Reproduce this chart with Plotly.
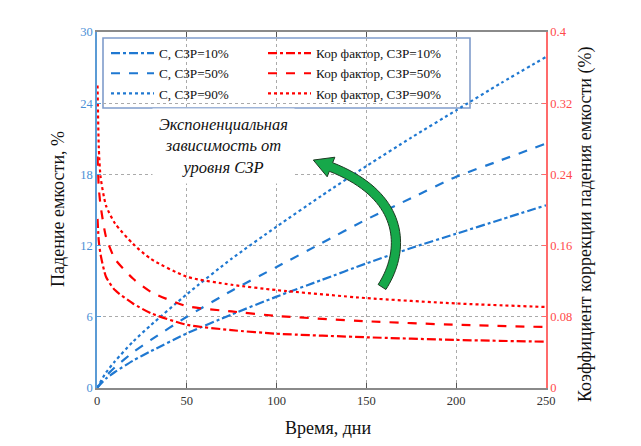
import numpy as np
import plotly.graph_objects as go

# ---------------- data ----------------
days = [0, 5, 10, 20, 30, 50, 75, 100, 125, 150, 175, 200, 225, 250]
c_10 = [0, 0.8, 1.35, 2.3, 3.1, 4.6, 6.2, 7.7, 9.1, 10.5, 11.8, 13.0, 14.2, 15.4]
c_50 = [0, 1.0, 1.75, 3.0, 4.05, 6.0, 8.2, 10.2, 12.2, 14.2, 16.0, 17.8, 19.2, 20.6]
c_90 = [0, 1.3, 2.25, 3.9, 5.3, 7.9, 10.9, 13.6, 16.2, 18.7, 21.1, 23.4, 25.7, 27.9]

k_days = [0.3, 1, 2, 5, 10, 20, 30, 50, 75, 100, 150, 200, 250]
k_90 = [0.34, 0.27, 0.237, 0.205, 0.185, 0.162, 0.145, 0.125, 0.116, 0.110, 0.101, 0.095, 0.091]
k_50 = [0.26, 0.225, 0.205, 0.17, 0.145, 0.123, 0.108, 0.092, 0.086, 0.081, 0.075, 0.071, 0.0685]
k_10 = [0.19, 0.165, 0.15, 0.125, 0.11, 0.095, 0.084, 0.071, 0.065, 0.061, 0.057, 0.054, 0.052]

c_names = ["С, СЗР=10%", "С, СЗР=50%", "С, СЗР=90%"]
k_names = ["Кор фактор, СЗР=10%", "Кор фактор, СЗР=50%", "Кор фактор, СЗР=90%"]

x_ticks = [0, 50, 100, 150, 200, 250]
y_ticks = [0, 6, 12, 18, 24, 30]
y2_ticks = [0, 0.08, 0.16, 0.24, 0.32, 0.4]
y2_labels = ["0", "0.08", "0.16", "0.24", "0.32", "0.4"]

note_text = "<i>Экспоненциальная<br>зависимость от<br>уровня СЗР</i>"
x_title = "Время, дни"
y_title = "Падение емкости, %"
y2_title = "Коэффициент коррекции падения емкости (%)"

# ---------------- styles ----------------
FONT = "Liberation Serif"
BLUE = "#1f78d1"
RED = "#ff0000"
dashes = ["dashdot", "dash", "dot"]

OFF = 8  # page body margin
W, H = 641 - OFF, 446 - OFF
L, R, T, B = 97 - OFF, 95, 32 - OFF, 58
PW, PH = W - L - R, H - T - B


def paper(px, py):
    # px, py measured in the screenshot
    return (px - OFF - L) / PW, (H - B - (py - OFF)) / PH


fig = go.Figure()
for i, ys in enumerate([c_10, c_50, c_90]):
    fig.add_trace(go.Scatter(
        x=days, y=ys, mode="lines", name=c_names[i], legend="legend",
        line=dict(color=BLUE, width=2.2, dash=dashes[i], shape="spline", smoothing=0.6),
        yaxis="y"))
for i, ys in enumerate([k_10, k_50, k_90]):
    fig.add_trace(go.Scatter(
        x=k_days, y=ys, mode="lines", name=k_names[i], legend="legend2",
        line=dict(color=RED, width=2.2, dash=dashes[i], shape="spline", smoothing=0.6),
        yaxis="y2"))

# ---------------- green curved arrow ----------------
P0 = np.array([382.0, 287.0])
P1 = np.array([406.0, 250.0])
P2 = np.array([405.0, 196.0])
P3 = np.array([331.0, 167.0])
ts = np.linspace(0, 1, 40)
pts = np.array([(1 - t) ** 3 * P0 + 3 * (1 - t) ** 2 * t * P1 + 3 * (1 - t) * t ** 2 * P2 + t ** 3 * P3 for t in ts])
der = np.array([3 * (1 - t) ** 2 * (P1 - P0) + 6 * (1 - t) * t * (P2 - P1) + 3 * t ** 2 * (P3 - P2) for t in ts])
tan = der / np.linalg.norm(der, axis=1)[:, None]
nor = np.stack([-tan[:, 1], tan[:, 0]], axis=1)
hw = 4.6
left = pts + nor * hw
right = pts - nor * hw
d_end = tan[-1]
n_end = nor[-1]
head_a = P3 + n_end * 10.5
head_b = P3 - n_end * 10.5
tip = P3 + d_end * 19
poly = list(left) + [head_a, tip, head_b] + list(right[::-1])
path = "M " + " L ".join("{:.5f},{:.5f}".format(*paper(p[0], p[1])) for p in poly) + " Z"

fx0, fy1 = paper(103, 38)
fx1, fy0 = paper(470, 108)
shapes = [
    # legend frame (drawn on the subplot, over the grid)
    dict(type="rect", xref="x domain", yref="y domain",
         x0=fx0, x1=fx1, y0=fy0, y1=fy1,
         fillcolor="white", line=dict(color="#7f9ccb", width=1.6), layer="below"),
    dict(type="path", xref="paper", yref="paper", path=path,
         fillcolor="#16a84a", line=dict(color="#1d3a22", width=1), layer="above"),
]

lx1, ly = paper(106, 38)
lx2, _ = paper(263, 38)


def ann(text, px, py, size, angle=0, **kw):
    x, y = paper(px, py)
    return dict(text=text, xref="paper", yref="paper", x=x, y=y, xanchor="center", yanchor="middle",
                textangle=angle, showarrow=False, font=dict(family=FONT, size=size, color="#111"), **kw)


annotations = [
    ann(note_text, 223, 146, 16.5, bgcolor="white", borderpad=6, align="center"),
    ann(y_title, 58, 209, 18, -90),
    ann(y2_title, 585, 225, 18, -90),
    ann(x_title, 328, 428, 18),
]

legend_font = dict(family=FONT, size=13.2, color="#111")
fig.update_layout(
    width=W, height=H,
    margin=dict(l=L, r=R, t=T, b=B, pad=0, autoexpand=False),
    paper_bgcolor="white", plot_bgcolor="white",
    font=dict(family=FONT, size=12, color="#222"),
    showlegend=True,
    legend=dict(x=lx1, y=ly, xanchor="left", yanchor="top", bgcolor="rgba(0,0,0,0)",
                borderwidth=0, itemwidth=43, font=legend_font, tracegroupgap=0),
    legend2=dict(x=lx2, y=ly, xanchor="left", yanchor="top", bgcolor="rgba(0,0,0,0)",
                 borderwidth=0, itemwidth=43, font=legend_font, tracegroupgap=0),
    xaxis=dict(range=[0, 250], tickvals=x_ticks, showline=True, linecolor="#8a8a8a", linewidth=2,
               mirror="ticks", ticks="inside", ticklen=5, tickcolor="#555", tickwidth=1,
               showgrid=True, gridcolor="#aaaaaa", griddash="dot", gridwidth=1, zeroline=False,
               tickfont=dict(family=FONT, size=12.5, color="#333")),
    yaxis=dict(range=[0, 30], tickvals=y_ticks, showline=True, linecolor="#5b9bd5", linewidth=1.5,
               ticks="inside", ticklen=4, tickcolor="#5b9bd5",
               showgrid=True, gridcolor="#aaaaaa", griddash="dot", gridwidth=1, zeroline=False,
               tickfont=dict(family=FONT, size=12.5, color="#4a8fd6")),
    yaxis2=dict(range=[0, 0.4], tickvals=y2_ticks, ticktext=y2_labels, overlaying="y", side="right",
                showline=True, linecolor="#ff6b6b", linewidth=1.5, ticks="inside", ticklen=4,
                tickcolor="#ff6b6b", showgrid=False, zeroline=False,
                tickfont=dict(family=FONT, size=12.5, color="#ff4a4a")),
    shapes=shapes,
    annotations=annotations,
)

fig.write_html("out.html")
